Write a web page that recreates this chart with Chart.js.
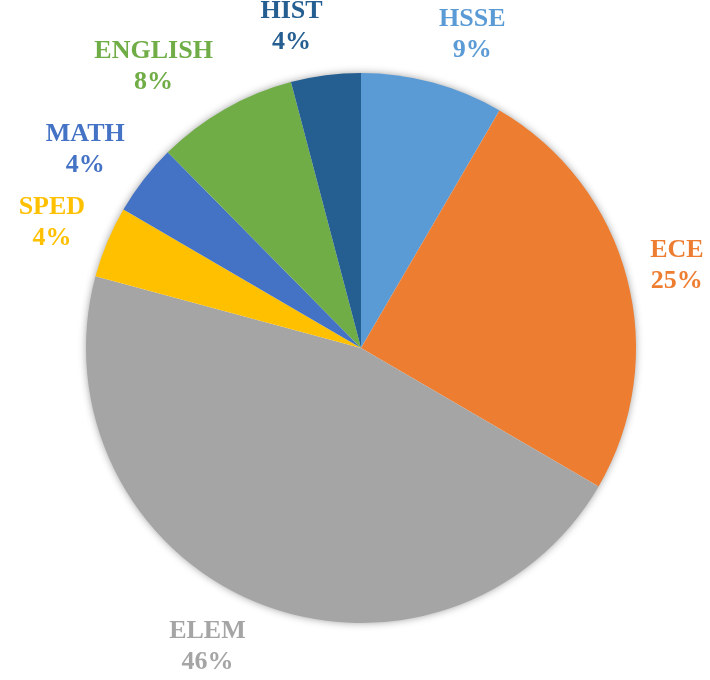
<!DOCTYPE html>
<html>
<head>
<meta charset="utf-8">
<script src="https://cdn.jsdelivr.net/npm/chart.js@4.4.1/dist/chart.umd.min.js"></script>
<style>
  html, body { margin: 0; padding: 0; background: #fff; }
  #wrap { width: 710px; height: 680px; }
</style>
</head>
<body>
<div id="wrap"><canvas id="pie"></canvas></div>
<script>
// departments, clockwise from 12 o'clock
const categories = ["HSSE", "ECE", "ELEM", "SPED", "MATH", "ENGLISH", "HIST"];
// share of the pie (percent)
const shares = [8.4, 25.0, 45.8, 4.2, 4.2, 8.3, 4.1];
// percentage text shown on the chart
const shareLabels = ["9%", "25%", "46%", "4%", "4%", "8%", "4%"];
const colors = ["#5B9BD5", "#ED7D31", "#A5A5A5", "#FFC000", "#4472C4", "#70AD47", "#255E91"];

// soft glow behind the whole pie
const pieShadow = {
  id: "pieShadow",
  beforeDatasetsDraw(chart) {
    const arc = chart.getDatasetMeta(0).data[0];
    if (!arc) return;
    const ctx = chart.ctx;
    ctx.save();
    ctx.shadowColor = "rgba(0,0,0,0.45)";
    ctx.shadowBlur = 9;
    ctx.fillStyle = "#fff";
    ctx.beginPath();
    ctx.arc(arc.x, arc.y, arc.outerRadius - 1, 0, Math.PI * 2);
    ctx.fill();
    ctx.restore();
  }
};

// category name + percent just outside each slice, on its mid ray
const outsideLabels = {
  id: "outsideLabels",
  afterDatasetsDraw(chart) {
    const ctx = chart.ctx;
    const meta = chart.getDatasetMeta(0);
    const lineH = 31;
    const boxH = 50;
    ctx.save();
    ctx.font = "bold 26px 'Liberation Serif', 'Times New Roman', serif";
    ctx.textAlign = "center";
    ctx.textBaseline = "middle";
    meta.data.forEach((arc, i) => {
      const mid = (arc.startAngle + arc.endAngle) / 2;
      const cx = Math.cos(mid), cy = Math.sin(mid);
      const w = Math.max(ctx.measureText(categories[i]).width, ctx.measureText(shareLabels[i]).width);
      const rr = arc.outerRadius + 24;
      const x = arc.x + rr * cx + Math.sign(cx) * w / 2;
      const y = arc.y + rr * cy + cy * boxH / 2;
      ctx.fillStyle = colors[i];
      ctx.fillText(categories[i], x, y - lineH / 2);
      ctx.fillText(shareLabels[i], x, y + lineH / 2);
    });
    ctx.restore();
  }
};

new Chart(document.getElementById("pie"), {
  type: "pie",
  data: {
    labels: categories,
    datasets: [{
      data: shares,
      backgroundColor: colors,
      borderWidth: 0
    }]
  },
  options: {
    responsive: true,
    maintainAspectRatio: false,
    animation: false,
    layout: { padding: { top: 73, bottom: 57, left: 86, right: 74 } },
    plugins: {
      legend: { display: false },
      tooltip: { enabled: false }
    }
  },
  plugins: [pieShadow, outsideLabels]
});
</script>
</body>
</html>
